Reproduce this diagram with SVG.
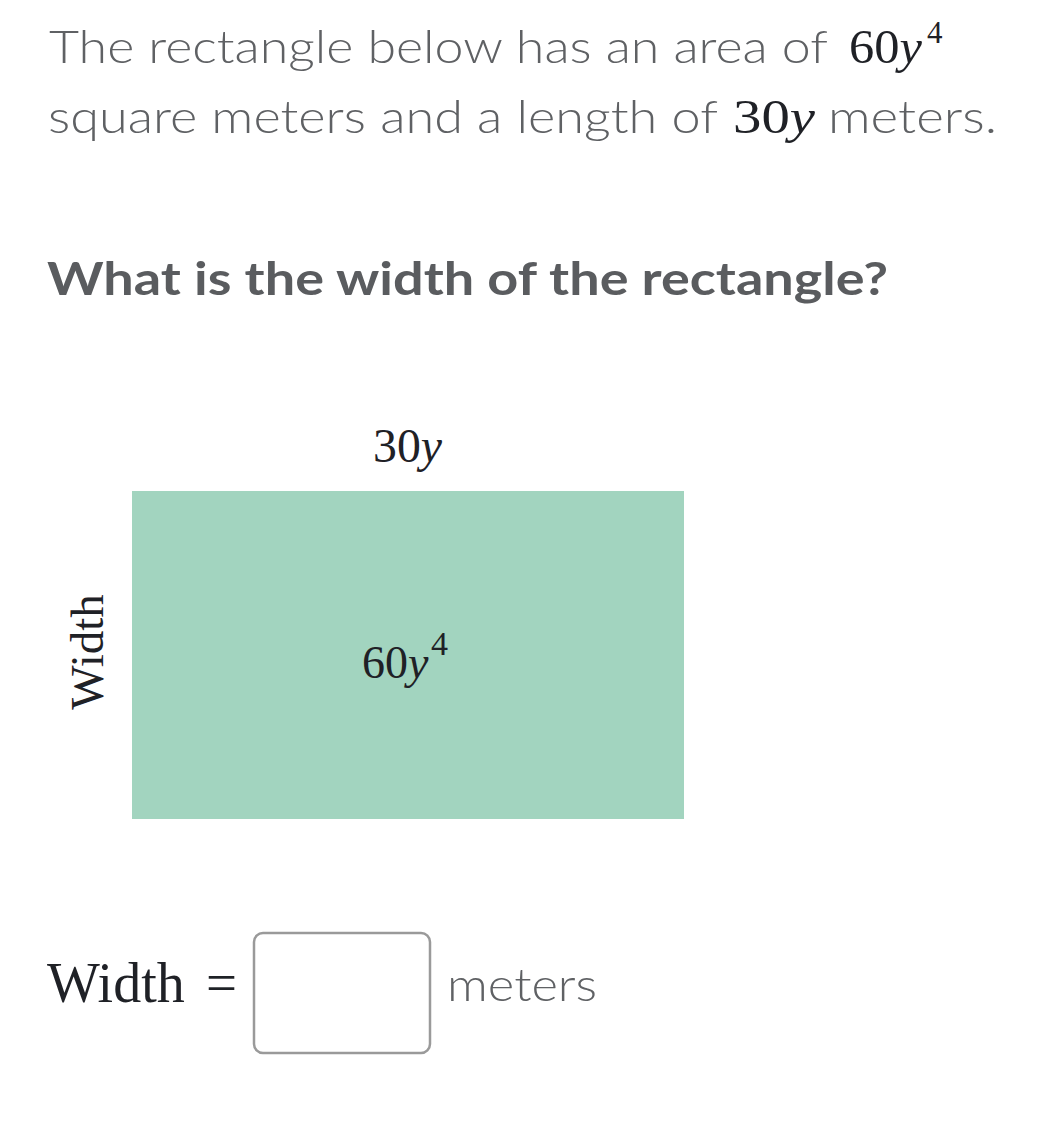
<svg xmlns="http://www.w3.org/2000/svg" width="1047" height="1122" viewBox="0 0 1047 1122">
<style>
.s{font-family:Lato,"Open Sans","Liberation Sans",sans-serif;fill:#5f6164;font-size:46px;font-weight:300}
.b{font-family:Lato,"Open Sans","Liberation Sans",sans-serif;fill:#5a5c5f;font-size:46px;font-weight:bold}
.m{font-family:"Liberation Serif","DejaVu Serif",serif;fill:#1f2126}
.i{font-style:italic}
</style>
<rect width="1047" height="1122" fill="#ffffff"/>
<g id="question">
<text class="s" x="49" y="63" textLength="779" lengthAdjust="spacingAndGlyphs">The rectangle below has an area of</text>
<text class="m" x="849" y="63" style="font-size:48px"><tspan textLength="73" lengthAdjust="spacingAndGlyphs">60<tspan class="i">y</tspan></tspan><tspan x="927" style="font-size:31px" dy="-20">4</tspan></text>
<text class="s" x="48" y="133" textLength="670" lengthAdjust="spacingAndGlyphs">square meters and a length of</text>
<text class="m" x="733" y="133" style="font-size:48px" textLength="82" lengthAdjust="spacingAndGlyphs">30<tspan class="i">y</tspan></text>
<text class="s" x="828" y="133" textLength="169" lengthAdjust="spacingAndGlyphs">meters.</text>
<text class="b" x="47" y="295" textLength="841" lengthAdjust="spacingAndGlyphs">What is the width of the rectangle?</text>
</g>
<g id="rectangle">
<rect x="132" y="491" width="552" height="328" fill="#a2d4bf"/>
<text class="m" x="362" y="678" style="font-size:46px">60<tspan class="i">y</tspan></text>
<text class="m" x="431" y="655" style="font-size:34px">4</text>
</g>
<g id="label-length">
<text class="m" x="373" y="462" style="font-size:48px" textLength="69" lengthAdjust="spacingAndGlyphs">30<tspan class="i">y</tspan></text>
</g>
<g id="label-width">
<text class="m" transform="translate(103 652) rotate(-90)" text-anchor="middle" style="font-size:47px">Width</text>
</g>
<g id="answer">
<text class="m" x="47" y="1002" style="font-size:56px">Width</text>
<text class="m" x="206" y="1002" style="font-size:56px" textLength="31" lengthAdjust="spacingAndGlyphs">=</text>
<rect x="254" y="933" width="176" height="120" rx="9" fill="#ffffff" stroke="#9a9a9a" stroke-width="2.5"/>
<text class="s" x="447" y="1001" textLength="150" lengthAdjust="spacingAndGlyphs">meters</text>
</g>
</svg>
